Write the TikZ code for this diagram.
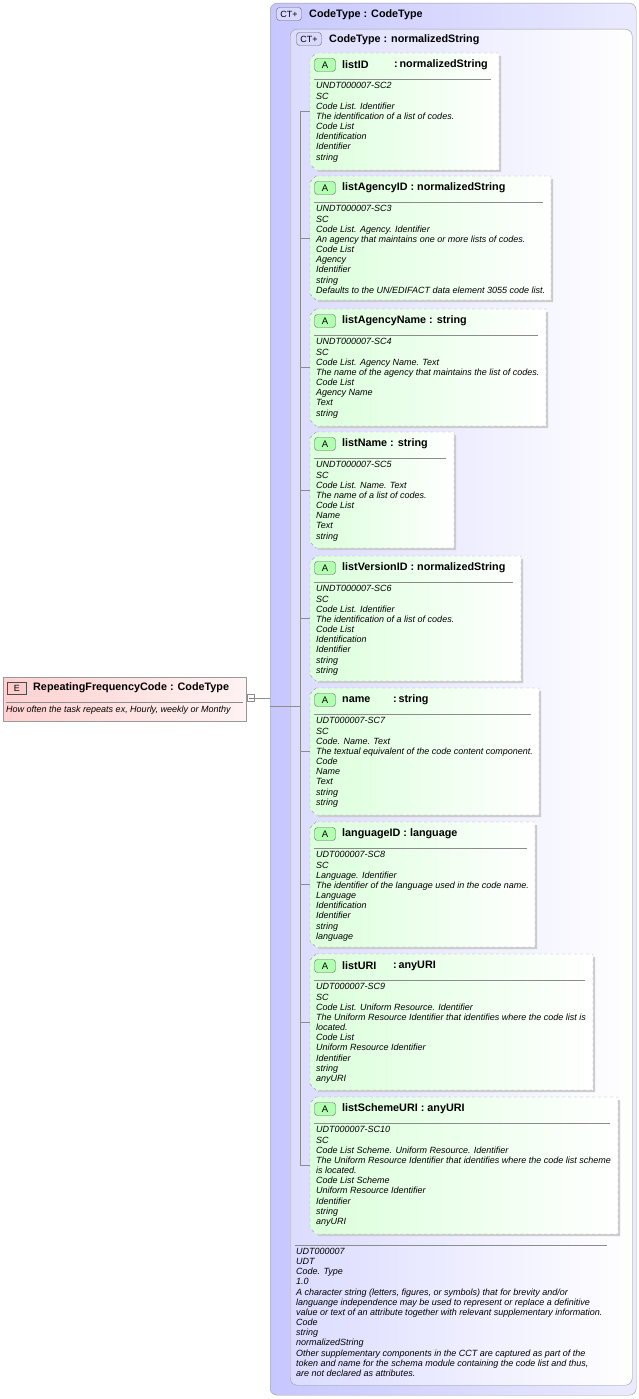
\documentclass[tikz,border=0pt]{standalone}
\usepackage{fontspec}
\setmainfont{Liberation Sans}
\begin{document}
\begin{tikzpicture}[x=1pt,y=-1pt,
 attbox/.style={draw=black!35,dashed,left color=green!14,right color=white},
 ctbox/.style={draw=black!40,rounded corners=7pt},
 badge/.style={draw=black!60,rounded corners=3pt,fill=blue!15,font=\fontsize{9}{9}\selectfont,inner sep=1pt,minimum width=25pt,minimum height=13pt},
 abadge/.style={draw=black!60,rounded corners=3pt,fill=green!30,font=\fontsize{9.5}{9}\selectfont,inner sep=1pt,minimum width=21pt,minimum height=13pt},
 ttl/.style={font=\fontsize{10.8}{12}\selectfont\bfseries,anchor=west,inner sep=0pt},
 body/.style={font=\fontsize{9}{10.15}\selectfont\itshape,anchor=north west,align=left,inner sep=0pt},
 conn/.style={draw=black!45}]
\useasboundingbox (0,0) rectangle (639,1399);
% outer boxes
\node[ctbox,left color=blue!22,right color=blue!8,minimum width=366pt,minimum height=1392pt,anchor=north west] (outer) at (270,3) {};
\node[badge] (ctb1) at (289,14) {CT+};
\node[ttl] (ctt1) at (309,14.5) {CodeType : CodeType};
\node[ctbox,left color=blue!14,right color=white,minimum width=342pt,minimum height=1356pt,anchor=north west] (inner) at (290,29) {};
\node[badge] (ctb2) at (309,39) {CT+};
\node[ttl] (ctt2) at (329,39.5) {CodeType : normalizedString};
% element
\node[draw=black!40,left color=red!18,right color=red!5,minimum width=243pt,minimum height=44pt,anchor=north west] (elem) at (3,677) {};
\node[draw=black!70,fill=red!20,font=\fontsize{9}{9}\selectfont,minimum width=19pt,minimum height=12pt,inner sep=0pt] (eb) at (17,688) {E};
\node[ttl] (et) at (33,688) {RepeatingFrequencyCode : CodeType};
\draw[black!45] (6,702) -- (243,702);
\node[body,anchor=west] (ed) at (6,710) {How often the task repeats ex, Hourly, weekly or Monthy};
\node[draw=black!45,fill=white,minimum size=7pt,inner sep=0pt] (sq) at (251,698) {};
\draw[black!50] (248.5,698) -- (253.5,698);
\coordinate (j) at (270,698);
\coordinate (j2) at (300,706);
\draw[conn] (sq) -- (j);
\draw[conn] (270,706) -- (j2);
\newcommand{\attr}[8]{%
 \fill[black!20] (312,#2+3) -- (#4+2,#2+3) -- (#4+2,#3+2) -- (318,#3+2) -- cycle;
 \path[attbox] (316,#2) -- (#4,#2) -- (#4,#3) -- (316,#3) -- (310,#3-6) -- (310,#2+6) -- cycle;
 \node[abadge] (#1b) at (325,#2+12) {A};
 \ifnum#5=0
  \node[ttl] (#1n) at (342,#2+12) {#6 : #7};
 \else
  \node[ttl] (#1n) at (342,#2+12) {#6};
  \node[ttl] (#1t) at (#5,#2+12) {:\,#7};
 \fi
 \draw[black!45] (314,#2+26) -- (#4-8,#2+26);
 \node[body] (#1x) at (316,#2+29.5) {#8};
 \coordinate (#1c) at (310,{(#2+#3)/2});
 \draw[conn] (300,{(#2+#3)/2}) -- (#1c);
}
\attr{a1}{53}{170}{499}{394}{listID}{normalizedString}{UNDT000007-SC2\\SC\\Code List. Identifier\\The identification of a list of codes.\\Code List\\Identification\\Identifier\\string}
\attr{a2}{176}{300}{551}{0}{listAgencyID}{normalizedString}{UNDT000007-SC3\\SC\\Code List. Agency. Identifier\\An agency that maintains one or more lists of codes.\\Code List\\Agency\\Identifier\\string\\Defaults to the UN/EDIFACT data element 3055 code list.}
\attr{a3}{309}{426}{546}{0}{listAgencyName}{string}{UNDT000007-SC4\\SC\\Code List. Agency Name. Text\\The name of the agency that maintains the list of codes.\\Code List\\Agency Name\\Text\\string}
\attr{a4}{432}{548}{454}{0}{listName}{string}{UNDT000007-SC5\\SC\\Code List. Name. Text\\The name of a list of codes.\\Code List\\Name\\Text\\string}
\attr{a5}{556}{681}{521}{0}{listVersionID}{normalizedString}{UNDT000007-SC6\\SC\\Code List. Identifier\\The identification of a list of codes.\\Code List\\Identification\\Identifier\\string\\string}
\attr{a6}{688}{815}{539}{393}{name}{string}{UDT000007-SC7\\SC\\Code. Name. Text\\The textual equivalent of the code content component.\\Code\\Name\\Text\\string\\string}
\attr{a7}{822}{947}{535}{0}{languageID}{language}{UDT000007-SC8\\SC\\Language. Identifier\\The identifier of the language used in the code name.\\Language\\Identification\\Identifier\\string\\language}
\attr{a8}{954}{1090}{593}{393}{listURI}{anyURI}{UDT000007-SC9\\SC\\Code List. Uniform Resource. Identifier\\The Uniform Resource Identifier that identifies where the code list is\\located.\\Code List\\Uniform Resource Identifier\\Identifier\\string\\anyURI}
\attr{a9}{1097}{1234}{618}{0}{listSchemeURI}{anyURI}{UDT000007-SC10\\SC\\Code List Scheme. Uniform Resource. Identifier\\The Uniform Resource Identifier that identifies where the code list scheme\\is located.\\Code List Scheme\\Uniform Resource Identifier\\Identifier\\string\\anyURI}
\draw[conn] (300,{(53+170)/2}) -- (300,{(1097+1234)/2});
\draw[black!45] (295,1245) -- (607,1245);
\node[body] (foot) at (296,1248) {UDT000007\\UDT\\Code. Type\\1.0\\A character string (letters, figures, or symbols) that for brevity and/or\\languange independence may be used to represent or replace a definitive\\value or text of an attribute together with relevant supplementary information.\\Code\\string\\normalizedString\\Other supplementary components in the CCT are captured as part of the\\token and name for the schema module containing the code list and thus,\\are not declared as attributes.};
\end{tikzpicture}
\end{document}
